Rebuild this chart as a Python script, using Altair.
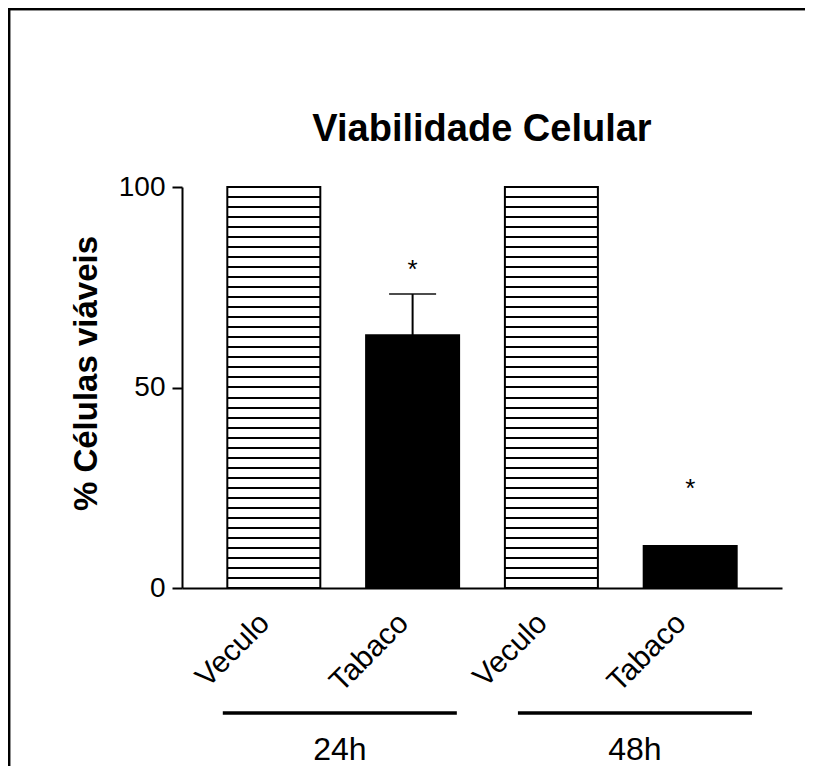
import altair as alt
import pandas as pd

# ---- data ----
categories = ["Veculo", "Tabaco", "Veculo", "Tabaco"]
groups = ["24h", "24h", "48h", "48h"]
means = [100, 63, 100, 10.5]
sems = [0, 10.3, 0, 0]
stars = ["", "*", "", "*"]
star_level = [None, 81, None, 26.4]
group_names = ["24h", "48h"]
y_ticks = [0, 50, 100]

FONT = "Liberation Sans"

df = pd.DataFrame({"cat": categories, "grp": groups, "mean": means,
                   "sem": sems, "star": stars, "star_y": star_level})
df["key"] = df["cat"] + "|" + df["grp"]
df["upper"] = df["mean"] + df["sem"]
keys = list(df["key"])

# horizontal hatching for the vehicle bars as a hard-edged gradient
N_STRIPES = 40
HALF = 1.0 / 401
stops = [{"offset": 0, "color": "white"}]
for k in range(1, N_STRIPES):
    c = k / N_STRIPES
    stops += [{"offset": c - HALF, "color": "white"},
              {"offset": c - HALF, "color": "black"},
              {"offset": c + HALF, "color": "black"},
              {"offset": c + HALF, "color": "white"}]
stops.append({"offset": 1, "color": "white"})
hatch = {"gradient": "linear", "x1": 0, "x2": 0, "y1": 0, "y2": 1, "stops": stops}

x_scale = alt.Scale(domain=keys, paddingInner=0.33, paddingOuter=0.3265)
x_axis = alt.Axis(title=None, labelExpr="split(datum.value, '|')[0]",
                  labelAngle=-45, labelAlign="right", labelBaseline="middle",
                  labelFontSize=30, labelPadding=30, labelOffset=-9, ticks=False,
                  domainWidth=2, labelFont=FONT)
y_axis = alt.Axis(values=y_ticks, title="% Células viáveis", titleFontSize=33,
                  titleFontWeight="bold", titleFont=FONT, titleX=-96, titleY=186,
                  titleAlign="center", titleBaseline="middle", titleAngle=270,
                  labelFontSize=28, labelPadding=7, labelFont=FONT,
                  tickSize=10, tickWidth=2, domainWidth=2, grid=False)
y_scale = alt.Scale(domain=[0, 100], nice=False)

base = alt.Chart(df)
X = alt.X("key:N", sort=keys, scale=x_scale, axis=x_axis)

veh = base.transform_filter("datum.cat == 'Veculo'").mark_bar(
    fill=hatch, stroke="black", strokeWidth=2).encode(
    x=X, y=alt.Y("mean:Q", scale=y_scale, axis=y_axis))
tab = base.transform_filter("datum.cat == 'Tabaco'").mark_bar(
    fill="black", stroke="black", strokeWidth=2).encode(
    x=X, y=alt.Y("mean:Q", scale=y_scale, axis=y_axis))
err = base.transform_filter("datum.sem > 0").mark_rule(
    color="black", strokeWidth=2).encode(
    x=X, y=alt.Y("mean:Q", scale=y_scale, axis=y_axis), y2="upper:Q")
cap = base.transform_filter("datum.sem > 0").mark_tick(
    color="black", thickness=2, size=47).encode(
    x=X, y=alt.Y("upper:Q", scale=y_scale, axis=y_axis))
star = base.transform_filter("datum.star != ''").mark_text(
    fontSize=26, font=FONT, baseline="alphabetic", dy=15, color="black").encode(
    x=X, y=alt.Y("star_y:Q", scale=y_scale, axis=y_axis), text="star:N")

bars = alt.layer(veh, tab, err, cap, star)

gdf = pd.DataFrame({"grp": group_names})
g_scale = alt.Scale(domain=group_names, paddingInner=0.207, paddingOuter=0.12, align=0.576)
grule = alt.Chart(gdf).mark_rule(color="black", strokeWidth=3.5).encode(
    x=alt.X("grp:N", bandPosition=0, scale=g_scale, axis=None),
    x2=alt.X2("grp:N", bandPosition=1),
    y=alt.value(526))
gtext = alt.Chart(gdf).mark_text(fontSize=32, font=FONT, baseline="alphabetic",
                                  color="black").encode(
    x=alt.X("grp:N", bandPosition=0.5, scale=g_scale, axis=None),
    y=alt.value(573), text="grp:N")
frame_top = alt.Chart(gdf).mark_rule(color="black", strokeWidth=2.5).encode(
    x=alt.value(-174), x2=alt.value(640), y=alt.value(-178))
frame_left = alt.Chart(gdf).mark_rule(color="black", strokeWidth=2.5).encode(
    x=alt.value(-173), y=alt.value(-179), y2=alt.value(579))
groups_layer = alt.layer(grule, gtext, frame_top, frame_left)

chart = alt.layer(bars, groups_layer).resolve_scale(x="independent").properties(
    width=600, height=401, background="white",
    title=alt.TitleParams("Viabilidade Celular", fontSize=38, fontWeight="bold",
                          font=FONT, anchor="middle", baseline="alphabetic",
                          offset=0, dy=172, color="black"),
    padding={"left": 174, "top": 179, "right": 23, "bottom": 178},
    autosize=alt.AutoSizeParams(type="none"),
).configure_view(stroke=None).configure_axis(
    domainColor="black", tickColor="black", labelColor="black", titleColor="black"
)

chart.save("out.html", embed_options={"renderer": "svg", "actions": False})
